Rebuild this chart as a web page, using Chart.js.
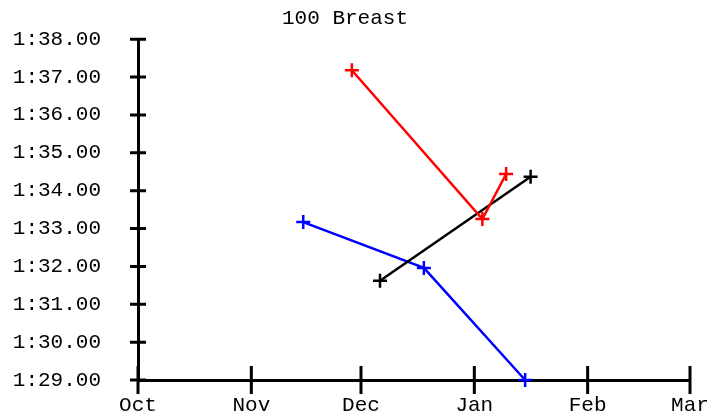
<!DOCTYPE html>
<html>
<head>
<meta charset="utf-8">
<script src="https://cdn.jsdelivr.net/npm/chart.js@4/dist/chart.umd.min.js"></script>
<style>
  html, body { margin: 0; padding: 0; background: #fff; }
  #wrap { width: 727px; height: 416px; }
</style>
</head>
<body>
<div id="wrap"><canvas id="c" width="727" height="416"></canvas></div>
<script>
// Days counted from Oct 1
const xTickLabels = ['Oct', 'Nov', 'Dec', 'Jan', 'Feb', 'Mar'];
const xTickDays = [0, 31, 61, 92, 123, 151];
// Times in seconds
const yTickValues = [89, 90, 91, 92, 93, 94, 95, 96, 97, 98];
const yTickLabels = ['1:29.00', '1:30.00', '1:31.00', '1:32.00', '1:33.00', '1:34.00', '1:35.00', '1:36.00', '1:37.00', '1:38.00'];

const redDays = [58.5, 94.2, 100.7];
const redTimes = [97.18, 93.25, 94.44];
const blackDays = [66.2, 107.4];
const blackTimes = [91.62, 94.37];
const blueDays = [45.2, 78.2, 105.9];
const blueTimes = [93.17, 91.96, 89.0];

const FONT = 'Liberation Mono, Courier New, monospace';

function pts(xs, ys) { return xs.map((x, i) => ({ x: x, y: ys[i] })); }
function ds(xs, ys, color) {
  return {
    data: pts(xs, ys),
    borderColor: color,
    backgroundColor: color,
    borderWidth: 2.5,
    pointStyle: 'cross',
    pointRadius: 7,
    pointHoverRadius: 7,
    pointBorderWidth: 2.5,
    fill: false,
    tension: 0,
    clip: false
  };
}

const crossTicks = {
  id: 'crossTicks',
  beforeDatasetsDraw(chart) {
    const ctx = chart.ctx;
    const xs = chart.scales.x, ys = chart.scales.y;
    const a = chart.chartArea;
    ctx.save();
    ctx.strokeStyle = '#000';
    ctx.lineWidth = 3;
    ctx.beginPath();
    xs.ticks.forEach(t => {
      const px = xs.getPixelForValue(t.value);
      ctx.moveTo(px, a.bottom - 14);
      ctx.lineTo(px, a.bottom + 14);
    });
    ys.ticks.forEach(t => {
      const py = ys.getPixelForValue(t.value);
      ctx.moveTo(a.left - 8, py);
      ctx.lineTo(a.left + 8, py);
    });
    ctx.stroke();
    ctx.restore();
  }
};

new Chart(document.getElementById('c'), {
  type: 'line',
  data: {
    datasets: [
      ds(redDays, redTimes, '#ff0000'),
      ds(blackDays, blackTimes, '#000000'),
      ds(blueDays, blueTimes, '#0000ff')
    ]
  },
  options: {
    responsive: false,
    animation: false,
    layout: { autoPadding: false, padding: { left: 0, right: 37, top: 0, bottom: 0 } },
    plugins: {
      legend: { display: false },
      tooltip: { enabled: false },
      title: {
        display: true,
        text: '100 Breast',
        color: '#000',
        font: { family: FONT, size: 21, weight: 'normal', lineHeight: 1.2 },
        padding: { top: 6, bottom: 8 }
      }
    },
    scales: {
      x: {
        type: 'linear',
        min: xTickDays[0],
        max: xTickDays[xTickDays.length - 1],
        afterBuildTicks(scale) {
          scale.ticks = xTickDays.map(v => ({ value: v }));
        },
        afterFit(scale) { scale.height = 36; },
        grid: { display: false, drawTicks: false },
        border: { display: true, color: '#000', width: 3 },
        ticks: {
          color: '#000',
          padding: 13,
          font: { family: FONT, size: 21 },
          autoSkip: false,
          maxRotation: 0,
          callback(v) { const i = xTickDays.indexOf(v); return i >= 0 ? xTickLabels[i] : ''; }
        }
      },
      y: {
        type: 'linear',
        min: yTickValues[0],
        max: yTickValues[yTickValues.length - 1],
        afterBuildTicks(scale) {
          scale.ticks = yTickValues.map(v => ({ value: v }));
        },
        afterFit(scale) { scale.width = 138; scale.paddingTop = 0; scale.paddingBottom = 0; },
        grid: { display: false, drawTicks: false },
        border: { display: true, color: '#000', width: 3 },
        ticks: {
          color: '#000',
          padding: 37,
          font: { family: FONT, size: 21 },
          autoSkip: false,
          callback(v) { const i = yTickValues.indexOf(v); return i >= 0 ? yTickLabels[i] : ''; }
        }
      }
    }
  },
  plugins: [crossTicks]
});
</script>
</body>
</html>
